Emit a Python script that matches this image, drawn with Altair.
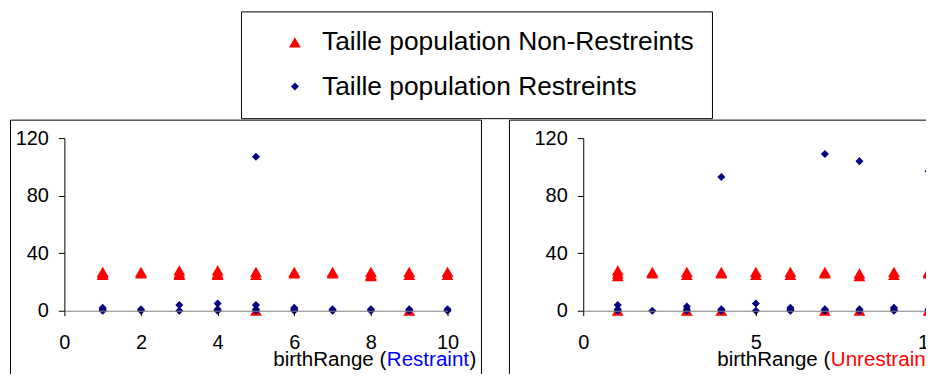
import altair as alt
import pandas as pd

FONT = "Liberation Sans"

SERIES = ["Taille population Non-Restreints", "Taille population Restreints"]
COLORS = ["#FF0000", "#000080"]
SHAPES = ["triangle-up", "diamond"]
SIZES = [140, 65]

# Left panel: birthRange (Restraint)
left_red_x = [1, 1, 1, 2, 2, 3, 3, 3, 4, 4, 4, 5, 5, 5, 6, 6, 7, 7, 8, 8, 8, 9, 9, 9, 10, 10]
left_red_y = [25, 26, 27, 26, 27, 25, 26, 28, 25, 26, 28, 0, 25, 27, 26, 27, 26, 27, 24, 25, 27, 0, 25, 27, 25, 27]
left_blue_x = [1, 1, 1, 2, 2, 3, 3, 4, 4, 4, 5, 5, 5, 5, 6, 6, 6, 7, 7, 8, 8, 9, 9, 10, 10]
left_blue_y = [0, 1, 2, 0, 1, 0, 4, 0, 1, 5, 0, 1, 4, 107, 0, 1, 2, 0, 1, 0, 1, 0, 1, 0, 1]

# Right panel: birthRange (Unrestraint)
right_red_x = [1, 1, 1, 1, 2, 2, 3, 3, 3, 4, 4, 4, 5, 5, 6, 6, 7, 7, 7, 8, 8, 8, 9, 9, 10, 10, 10]
right_red_y = [0, 24, 26, 28, 26, 27, 0, 25, 27, 0, 26, 27, 25, 27, 25, 27, 0, 26, 27, 0, 24, 26, 25, 27, 0, 26, 27]
right_blue_x = [1, 1, 1, 2, 3, 3, 3, 4, 4, 4, 5, 5, 6, 6, 6, 7, 7, 7, 8, 8, 8, 9, 9, 9, 10, 10, 10]
right_blue_y = [0, 1, 4, 0, 0, 1, 3, 0, 1, 93, 0, 5, 0, 1, 2, 0, 1, 109, 0, 1, 104, 0, 1, 2, 0, 1, 97]

Y_TICKS = [0, 40, 80, 120]
LEFT_X_TICKS = [0, 2, 4, 6, 8, 10]
RIGHT_X_TICKS = [0, 5, 10]

# Arial / Liberation Sans advance widths (per 1000 em)
AW = {"b": 556, "i": 222, "r": 333, "t": 278, "h": 556, "R": 722, "a": 556, "n": 556,
      "g": 556, "e": 556, " ": 278, "(": 333, ")": 333, "s": 500, "U": 722}


def tw(s, fs):
    return sum(AW.get(c, 556) for c in s) * fs / 1000.0


def make_df(rx, ry, bx, by):
    rows = [{"birthRange": x, "value": y, "series": SERIES[0]} for x, y in zip(rx, ry)]
    rows += [{"birthRange": x, "value": y, "series": SERIES[1]} for x, y in zip(bx, by)]
    return pd.DataFrame(rows)


legend = alt.Legend(
    orient="none", legendX=177, legendY=-127, title=None,
    labelFontSize=26.4, labelFont=FONT, labelColor="black", labelLimit=800,
    strokeColor="black", fillColor="white", padding=17.8, rowPadding=17.3,
    symbolOffset=23, labelOffset=14, symbolSize=130, symbolStrokeWidth=0,
)

TITLE_FS = 20.6


def panel(df, width, xticks, frame_x, frame_x2, title_x, word, word_color):
    base_frame = alt.Chart(alt.Data(values=[{}])).mark_rect(
        fill="white", stroke="black", strokeWidth=1
    ).encode(
        x=alt.value(frame_x), x2=alt.value(frame_x2),
        y=alt.value(-18), y2=alt.value(262),
    )
    pts = alt.Chart(df).mark_point(filled=True, opacity=1, strokeWidth=0).encode(
        x=alt.X("birthRange:Q",
                scale=alt.Scale(domain=[0, 10], nice=False, zero=True),
                axis=alt.Axis(values=xticks, title=None, grid=False, zindex=1,
                              domainColor="#808080", tickColor="black", tickSize=5,
                              labelPadding=17, labelFontSize=20, labelFont=FONT,
                              labelColor="black", format="d", labelFlush=False,
                              labelOverlap=False)),
        y=alt.Y("value:Q",
                scale=alt.Scale(domain=[0, 120], nice=False),
                axis=alt.Axis(values=Y_TICKS, title=None, grid=False, zindex=1,
                              domainColor="black", tickColor="black", tickSize=6,
                              labelPadding=10, labelFontSize=20, labelFont=FONT,
                              labelColor="black", labelFlush=False,
                              labelOverlap=False)),
        color=alt.Color("series:N", scale=alt.Scale(domain=SERIES, range=COLORS), legend=legend),
        shape=alt.Shape("series:N", scale=alt.Scale(domain=SERIES, range=SHAPES), legend=legend),
        size=alt.Size("series:N", scale=alt.Scale(domain=SERIES, range=SIZES), legend=None),
    )
    p1 = "birthRange ("
    w1 = tw(p1, TITLE_FS)
    w2 = tw(word, TITLE_FS)
    texts = []
    for s, dx, col in [(p1, 0, "black"), (word, w1 + 0.5, word_color), (")", w1 + w2 + 1, "black")]:
        texts.append(
            alt.Chart(alt.Data(values=[{}])).mark_text(
                text=s, align="left", baseline="alphabetic", fontSize=TITLE_FS,
                font=FONT, color=col
            ).encode(x=alt.value(title_x + dx), y=alt.value(228.5))
        )
    return alt.layer(base_frame, pts, *texts).properties(width=width, height=173)


left = panel(make_df(left_red_x, left_red_y, left_blue_x, left_blue_y), 384, LEFT_X_TICKS,
             -54, 418, 209.3, "Restraint", "#0000FF")
right = panel(make_df(right_red_x, right_red_y, right_blue_x, right_blue_y), 346, RIGHT_X_TICKS,
              -74, 362, 134.3, "Unrestraint", "#FF0000")

chart = alt.hconcat(left, right, spacing=26).properties(
    padding={"left": 1.5, "top": 2, "right": -19.5, "bottom": -27.5},
    background="white",
).configure_view(stroke=None)

chart.save("out.html", embed_options={"renderer": "svg", "actions": False})
